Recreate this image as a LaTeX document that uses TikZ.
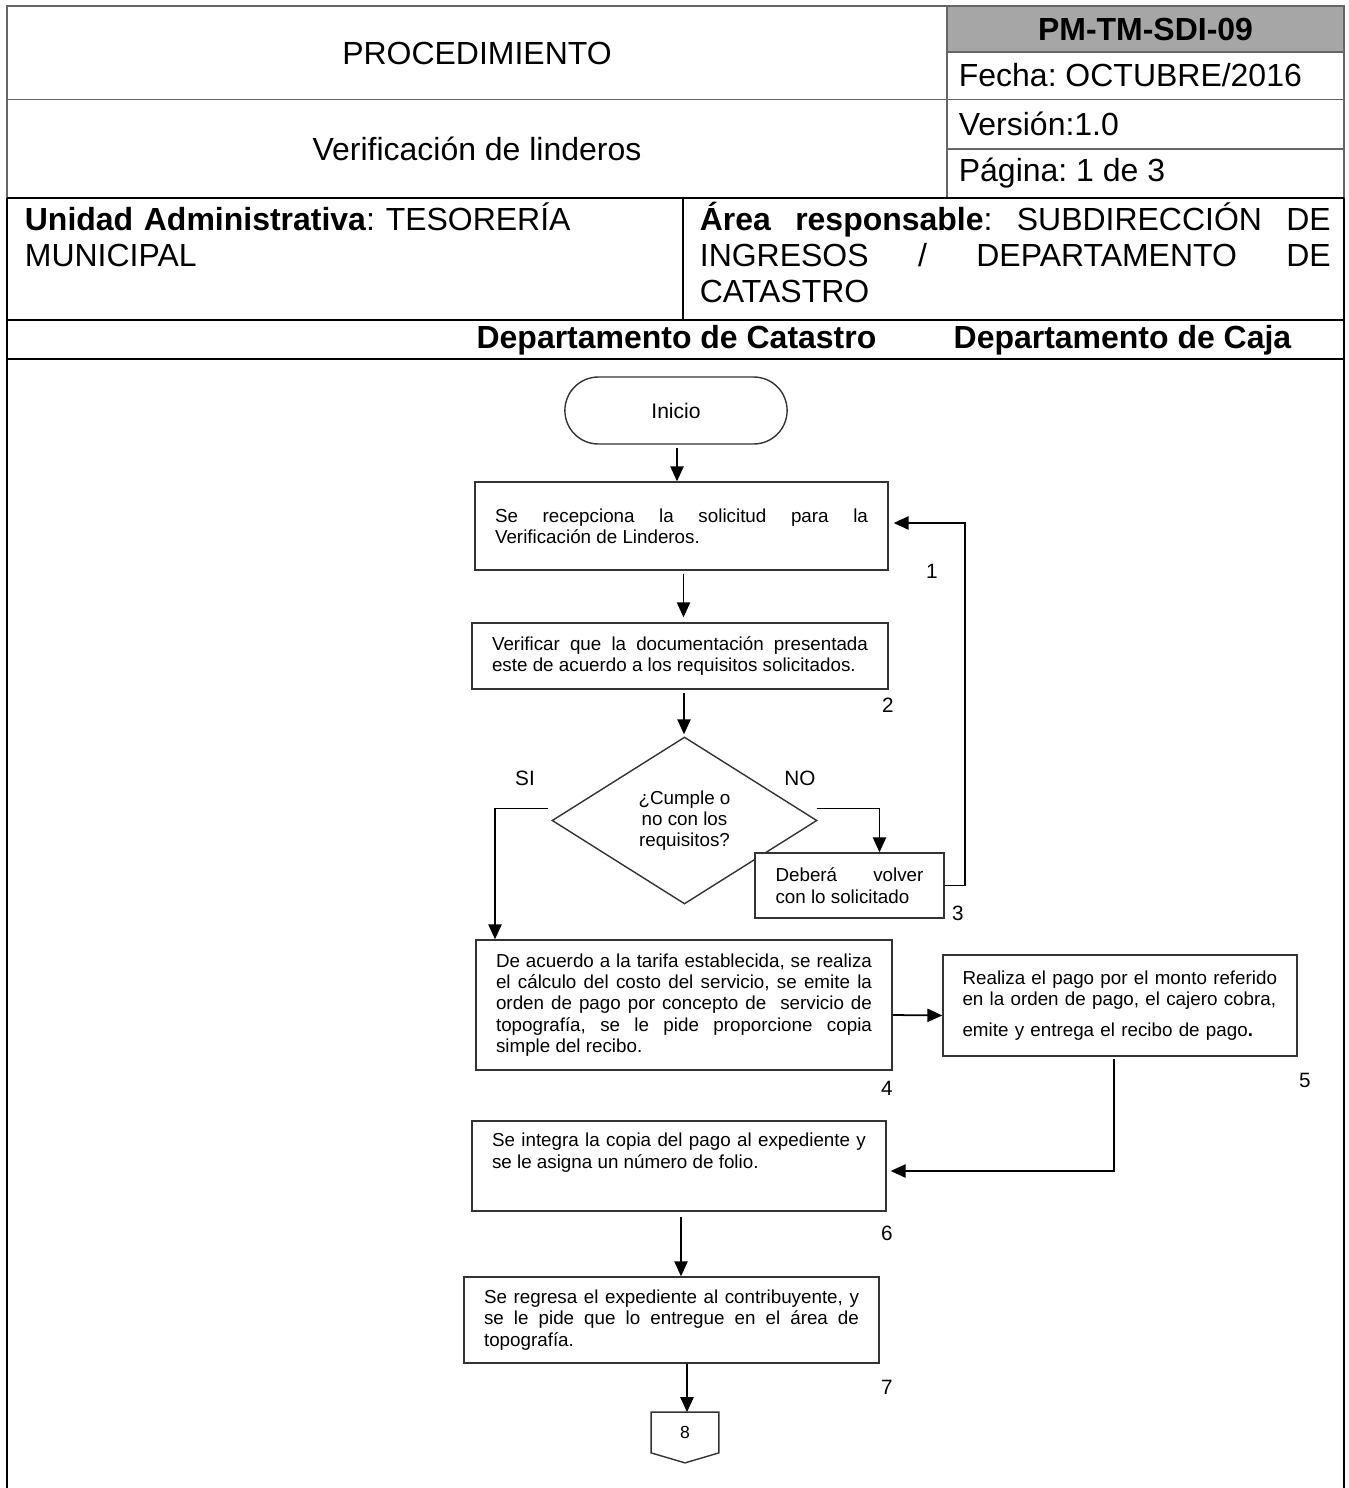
\documentclass[tikz,border=0pt]{standalone}
\usepackage{fontspec}
\setmainfont{Liberation Sans}
\usetikzlibrary{shapes.geometric,shapes.misc,arrows.meta,calc}
\hyphenpenalty=10000
\tolerance=10000
\hbadness=10000
\frenchspacing

\tikzset{
  marco/.style={draw=black!60, line width=1.1pt},
  marcon/.style={draw=black, line width=1.6pt},
  enc/.style={font=\fontsize{18.2}{20.5}\selectfont, inner sep=0pt},
  encb/.style={font=\fontsize{18.2}{20.5}\selectfont\bfseries, inner sep=0pt},
  paso/.style={draw=black!80, line width=0.8pt, fill=white, align=justify,
    font=\fontsize{10.7}{12.2}\selectfont, inner sep=0pt},
  inicio/.style={rounded rectangle, draw=black!80, line width=0.8pt,
    minimum width=4.68cm, minimum height=1.34cm, font=\fontsize{12}{14}\selectfont},
  decision/.style={diamond, draw=black!80, line width=0.8pt, aspect=1.59,
    minimum width=5.3cm, minimum height=3.34cm, inner sep=0pt, align=center,
    font=\fontsize{10.7}{11.8}\selectfont},
  num/.style={font=\fontsize{11.8}{13}\selectfont, inner sep=0pt},
  conector/.style={minimum width=1.32cm, minimum height=0.78cm, inner sep=0pt,
    font=\fontsize{10}{12}\selectfont}
}

\begin{document}
\begin{tikzpicture}[x=0.02cm,y=-0.02cm,>={Triangle[length=8.5pt,width=7.5pt]},line width=1pt]
  \useasboundingbox (0,0) rectangle (1349,1488);
  % encabezado
  \fill[black!35] (947,6) rectangle (1344,52);
  \draw[marco] (7,198) -- (7,6) -- (1344,6) -- (1344,198);
  \draw[marco] (7,99.5) -- (1344,99.5);
  \draw[marco] (947,6) -- (947,198);
  \draw[marco] (947,52) -- (1344,52);
  \draw[marco] (947,149) -- (1344,149);
  \draw[marcon] (7,198) -- (1344,198);
  \draw[marcon] (683,198) -- (683,320);
  \draw[marcon] (7,320) -- (1344,320);
  \draw[marcon] (7,359) -- (1344,359);
  \draw[marcon] (7,198) -- (7,1488);
  \draw[marcon] (1344,198) -- (1344,1488);

  \node[enc] (proc) at (477,53) {PROCEDIMIENTO};
  \node[enc] (titulo) at (477,149) {Verificación de linderos};
  \node[encb] (clave) at (1145.5,29) {PM-TM-SDI-09};
  \node[enc, anchor=west] (fecha) at (958,75.5) {Fecha: OCTUBRE/2016};
  \node[enc, anchor=west] (version) at (958,124) {Versión:1.0};
  \node[enc, anchor=west] (pagina) at (958,173.5) {Página: 1 de 3};
  \node[enc, anchor=base west, text width=12.8cm, align=left] (unidad) at (24,230)
    {\textbf{Unidad Administrativa}: TESORERÍA\\MUNICIPAL};
  \node[enc, anchor=base west, text width=12.62cm, align=justify] (area) at (699,230)
    {\textbf{Área responsable}: SUBDIRECCIÓN DE\linebreak INGRESOS / DEPARTAMENTO DE\linebreak CATASTRO};
  \node[encb] (catastro) at (676.5,340) {Departamento de Catastro};
  \node[encb] (caja) at (1122.5,340) {Departamento de Caja};

  % diagrama
  \node[inicio] (inicio) at (676,410.5) {Inicio};
  \node[paso, minimum width=8.26cm, minimum height=1.76cm, text width=7.46cm] (b1) at (681.5,526)
    {Se recepciona la solicitud para la\linebreak Verificación de Linderos.};
  \node[paso, minimum width=8.32cm, minimum height=1.32cm, text width=7.52cm] (b2) at (680,656)
    {Verificar que la documentación presentada\linebreak este de acuerdo a los requisitos solicitados.};
  \node[decision] (d) at (684.5,820.5) {¿Cumple o\\no con los\\requisitos?};
  \node[paso, minimum width=3.78cm, minimum height=1.3cm, text width=2.96cm] (b3) at (849.5,885.5)
    {Deberá volver\linebreak con lo solicitado};
  \node[paso, minimum width=8.32cm, minimum height=2.6cm, text width=7.52cm] (b4) at (684,1005)
    {De acuerdo a la tarifa establecida, se realiza\linebreak el cálculo del costo del servicio, se emite la\linebreak
     orden de pago por concepto de\ \ servicio de\linebreak topografía, se le pide proporcione copia\linebreak simple del recibo.};
  \node[paso, align=left, minimum width=7.08cm, minimum height=2.02cm, text width=6.3cm] (b5) at (1120,1005.5)
    {Realiza el pago por el monto referido\\en la orden de pago, el cajero cobra,\\[5.5pt]emite y entrega el recibo de pago\textbf{.}};
  \node[paso, minimum width=8.28cm, minimum height=1.8cm, text width=7.48cm] (b6) at (679,1166)
    {Se integra la copia del pago al expediente y\linebreak se le asigna un número de folio.\par\rule{0pt}{14pt}};
  \node[paso, minimum width=8.3cm, minimum height=1.72cm, text width=7.5cm] (b7) at (671.5,1320)
    {Se regresa el expediente al contribuyente, y\linebreak se le pide que lo entregue en el área de\linebreak topografía.};
  \node[conector] (c8) at (685,1432.5) {8};
  \draw[black!80, line width=0.8pt] (c8.north west) -- (c8.north east) -- (c8.south east)
    -- ($(c8.south)+(0,10)$) -- (c8.south west) -- cycle;

  \node[num] (si) at (525,778) {SI};
  \node[num] (no) at (800,778) {NO};
  \node[num] (n1) at (932,571) {1};
  \node[num] (n2) at (888,705) {2};
  \node[num] (n3) at (958,913) {3};
  \node[num] (n4) at (887,1088) {4};
  \node[num] (n5) at (1305,1080) {5};
  \node[num] (n6) at (887,1233) {6};
  \node[num] (n7) at (887,1387) {7};

  \draw[->] ($(inicio.south)+(1,3)$) -- ($(inicio.south |- b1.north)+(1,0)$);
  \draw[->] ($(b1.south)+(2,3)$) -- ($(b1.south |- b2.north)+(2,-5)$);
  \draw[->] ($(b2.south)+(4,3)$) -- ($(b2.south |- d.north)+(4,-2)$);
  \draw[->] ($(d.west)+(-3,-12)$) -| ($(b4.north)+(-189,0)$);
  \draw[->] ($(d.east)+(-1,-12)$) -| ($(b3.north)+(30,0)$);
  \draw[->] (b3.east) -- ++(20,0) |- ($(b1.east)+(5,-3)$);
  \draw[->] ($(b4.east)+(0,10)$) -- ($(b5.west)+(0,10)$);
  \draw[->] ($(b5.south)+(-6,2)$) |- ($(b6.east)+(4,5)$);
  \draw[->] ($(b6.south)+(2,5)$) -- ($(b6.south |- b7.north)+(2,0)$);
  \draw[->] ($(b7.south)+(15.5,0)$) -- ($(b7.south |- c8.north)+(15.5,0)$);
\end{tikzpicture}
\end{document}
